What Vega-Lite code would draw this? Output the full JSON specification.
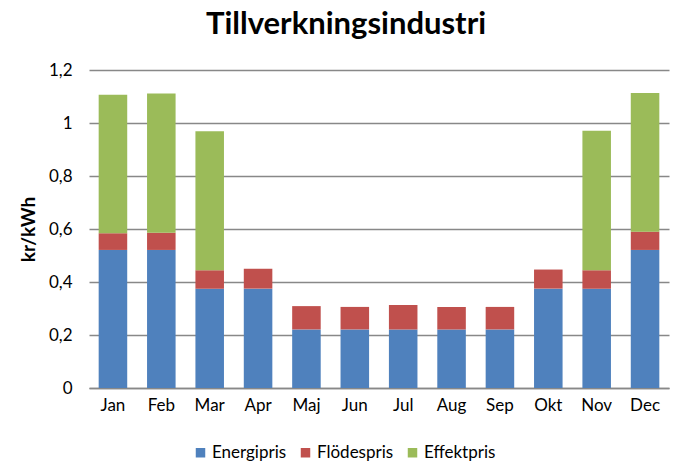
{
  "$schema": "https://vega.github.io/schema/vega-lite/v6.json",
  "width": 580,
  "height": 318,
  "autosize": {"type": "none"},
  "padding": {"left": 89, "top": 70, "right": 10, "bottom": 75},
  "background": "white",
  "config": {
    "font": "Lato",
    "view": {"stroke": null},
    "locale": {"number": {"decimal": ",", "thousands": " ", "grouping": [3], "currency": ["", " kr"]}}
  },
  "title": {
    "text": "Tillverkningsindustri",
    "fontSize": 31,
    "fontWeight": "bold",
    "color": "black",
    "anchor": "middle",
    "dx": -33,
    "offset": 20,
    "font": "Lato"
  },
  "data": {
    "values": [
      {"month": "Jan", "typ": "Energipris", "value": 0.521},
      {"month": "Jan", "typ": "Flödespris", "value": 0.063},
      {"month": "Jan", "typ": "Effektpris", "value": 0.523},
      {"month": "Feb", "typ": "Energipris", "value": 0.521},
      {"month": "Feb", "typ": "Flödespris", "value": 0.065},
      {"month": "Feb", "typ": "Effektpris", "value": 0.525},
      {"month": "Mar", "typ": "Energipris", "value": 0.375},
      {"month": "Mar", "typ": "Flödespris", "value": 0.069},
      {"month": "Mar", "typ": "Effektpris", "value": 0.525},
      {"month": "Apr", "typ": "Energipris", "value": 0.375},
      {"month": "Apr", "typ": "Flödespris", "value": 0.075},
      {"month": "Apr", "typ": "Effektpris", "value": 0},
      {"month": "Maj", "typ": "Energipris", "value": 0.221},
      {"month": "Maj", "typ": "Flödespris", "value": 0.088},
      {"month": "Maj", "typ": "Effektpris", "value": 0},
      {"month": "Jun", "typ": "Energipris", "value": 0.221},
      {"month": "Jun", "typ": "Flödespris", "value": 0.085},
      {"month": "Jun", "typ": "Effektpris", "value": 0},
      {"month": "Jul", "typ": "Energipris", "value": 0.221},
      {"month": "Jul", "typ": "Flödespris", "value": 0.092},
      {"month": "Jul", "typ": "Effektpris", "value": 0},
      {"month": "Aug", "typ": "Energipris", "value": 0.221},
      {"month": "Aug", "typ": "Flödespris", "value": 0.085},
      {"month": "Aug", "typ": "Effektpris", "value": 0},
      {"month": "Sep", "typ": "Energipris", "value": 0.221},
      {"month": "Sep", "typ": "Flödespris", "value": 0.085},
      {"month": "Sep", "typ": "Effektpris", "value": 0},
      {"month": "Okt", "typ": "Energipris", "value": 0.375},
      {"month": "Okt", "typ": "Flödespris", "value": 0.072},
      {"month": "Okt", "typ": "Effektpris", "value": 0},
      {"month": "Nov", "typ": "Energipris", "value": 0.375},
      {"month": "Nov", "typ": "Flödespris", "value": 0.069},
      {"month": "Nov", "typ": "Effektpris", "value": 0.527},
      {"month": "Dec", "typ": "Energipris", "value": 0.521},
      {"month": "Dec", "typ": "Flödespris", "value": 0.069},
      {"month": "Dec", "typ": "Effektpris", "value": 0.523}
    ]
  },
  "transform": [
    {"calculate": "indexof(['Energipris','Flödespris','Effektpris'], datum.typ)", "as": "ord"}
  ],
  "mark": {"type": "bar"},
  "encoding": {
    "x": {
      "field": "month",
      "type": "nominal",
      "sort": ["Jan","Feb","Mar","Apr","Maj","Jun","Jul","Aug","Sep","Okt","Nov","Dec"],
      "scale": {"paddingInner": 0.41, "paddingOuter": 0.2},
      "axis": {
        "title": null,
        "labelAngle": 0,
        "labelFontSize": 17,
        "labelColor": "black",
        "labelPadding": 9,
        "ticks": false,
        "domainColor": "#888888",
        "domainWidth": 1.5
      }
    },
    "y": {
      "field": "value",
      "type": "quantitative",
      "stack": "zero",
      "scale": {"domain": [0, 1.2], "nice": false},
      "axis": {
        "title": "kr/kWh",
        "titleFontSize": 19,
        "titleFontWeight": "bold",
        "titleColor": "black",
        "titlePadding": 10,
        "values": [0, 0.2, 0.4, 0.6, 0.8, 1, 1.2],
        "format": ".1~f",
        "labelFontSize": 17,
        "labelColor": "black",
        "labelPadding": 17,
        "ticks": false,
        "domain": false,
        "gridColor": "#888888",
        "gridWidth": 1.5
      }
    },
    "color": {
      "field": "typ",
      "type": "nominal",
      "scale": {
        "domain": ["Energipris", "Flödespris", "Effektpris"],
        "range": ["#4F81BD", "#C0504D", "#9BBB59"]
      },
      "legend": {
        "title": null,
        "orient": "none",
        "legendX": 103,
        "legendY": 374,
        "direction": "horizontal",
        "symbolType": "square",
        "symbolSize": 90,
        "symbolStrokeWidth": 0,
        "labelFontSize": 17,
        "labelColor": "black",
        "labelOffset": 3,
        "columnPadding": 10
      }
    },
    "order": {"field": "ord", "type": "quantitative"}
  }
}
